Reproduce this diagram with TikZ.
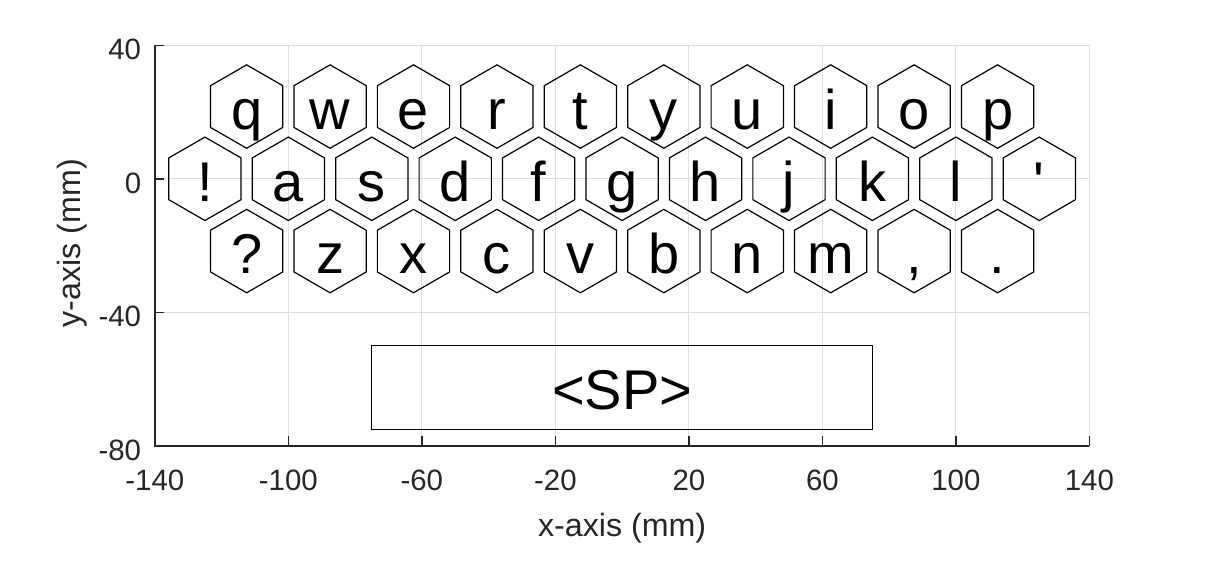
\documentclass[tikz,border=0pt]{standalone}
\usepackage{fontspec}
\setmainfont{Liberation Sans}
\definecolor{axgray}{HTML}{262626}
\definecolor{gridgray}{HTML}{DEDEDE}
\newcommand{\keyhex}[4]{%
  \coordinate (c#1) at (#2,#3);
  \draw[hexline] (c#1) ++(90:12.5) -- ++(-30:12.5) -- ++(-90:12.5) -- ++(-150:12.5) -- ++(150:12.5) -- ++(90:12.5) -- cycle;
  \node[keytext] (#1) at (#2,#3-6.74) {#4};}
\begin{document}
\begin{tikzpicture}[x=0.5pt,y=-0.5pt,
  hexline/.style={draw=black,line width=0.6pt},
  keytext/.style={anchor=base,inner sep=0pt,font=\fontsize{28}{30}\selectfont,text=black},
  ticklab/.style={inner sep=0pt,font=\fontsize{14.7}{16}\selectfont,text=axgray},
  axlab/.style={inner sep=0pt,anchor=base,font=\fontsize{16.1}{18}\selectfont,text=axgray},
  gridline/.style={draw=gridgray,line width=0.55pt},
  axisline/.style={draw=axgray,line width=0.8pt}]
\useasboundingbox (0,0) rectangle (1218,585);
\begin{scope}[shift={(311.05pt,-89.4pt)},x=1.66875pt,y=1.66875pt]
% grid
\foreach \gx in {-140,-100,-60,-20,20,60,100,140} \draw[gridline] (\gx,-80) -- (\gx,40);
\foreach \gy in {-80,-40,0,40} \draw[gridline] (-140,\gy) -- (140,\gy);
% row 1
\keyhex{kq}{-112.5}{21.65}{q}
\keyhex{kw}{-87.5}{21.65}{w}
\keyhex{ke}{-62.5}{21.65}{e}
\keyhex{kr}{-37.5}{21.65}{r}
\keyhex{kt}{-12.5}{21.65}{t}
\keyhex{ky}{12.5}{21.65}{y}
\keyhex{ku}{37.5}{21.65}{u}
\keyhex{ki}{62.5}{21.65}{i}
\keyhex{ko}{87.5}{21.65}{o}
\keyhex{kp}{112.5}{21.65}{p}
% row 2
\keyhex{kexcl}{-125}{0}{!}
\keyhex{ka}{-100}{0}{a}
\keyhex{ks}{-75}{0}{s}
\keyhex{kd}{-50}{0}{d}
\keyhex{kf}{-25}{0}{f}
\keyhex{kg}{0}{0}{g}
\keyhex{kh}{25}{0}{h}
\keyhex{kj}{50}{0}{j}
\keyhex{kk}{75}{0}{k}
\keyhex{kl}{100}{0}{l}
\keyhex{kapos}{125}{0}{\textquotesingle}
% row 3
\keyhex{kquest}{-112.5}{-21.65}{?}
\keyhex{kz}{-87.5}{-21.65}{z}
\keyhex{kx}{-62.5}{-21.65}{x}
\keyhex{kc}{-37.5}{-21.65}{c}
\keyhex{kv}{-12.5}{-21.65}{v}
\keyhex{kb}{12.5}{-21.65}{b}
\keyhex{kn}{37.5}{-21.65}{n}
\keyhex{km}{62.5}{-21.65}{m}
\keyhex{kcomma}{87.5}{-21.65}{,}
\keyhex{kdot}{112.5}{-21.65}{.}
% space bar
\draw[hexline] (-75,-50) rectangle (75,-75);
\node[keytext] (sp) at (0,-69.24) {<SP>};
% axes
\draw[axisline] (-140,40) -- (-140,-80) -- (140,-80);
\foreach \gx in {-140,-100,-60,-20,20,60,100,140} {
  \draw[axisline] (\gx,-80) -- (\gx,-77.2);
  \node[ticklab,anchor=base] (xt\gx) at (\gx,-93.24) {\gx};
}
\foreach \gy in {-80,-40,0,40} {
  \draw[axisline] (-140,\gy) -- (-137.2,\gy);
  \node[ticklab,anchor=base east] (yt\gy) at (-144,\gy-4.28) {\gy};
}
\node[axlab] (xlab) at (0,-107.24) {x-axis (mm)};
\node[axlab,rotate=90] (ylab) at (-162.2,-19.3) {y-axis (mm)};
\end{scope}
\end{tikzpicture}
\end{document}
